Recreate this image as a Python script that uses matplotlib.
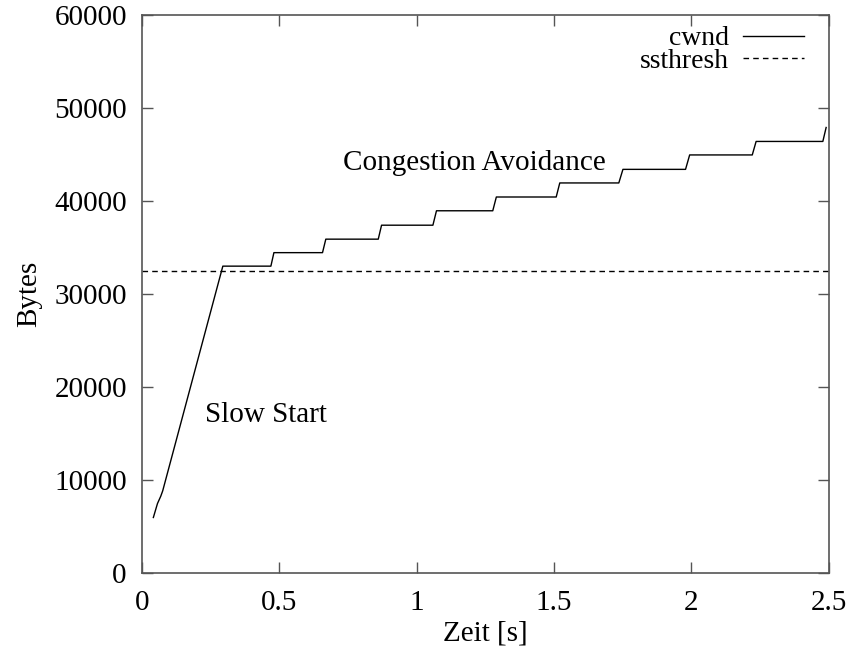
import matplotlib.pyplot as plt

plt.rcParams["font.family"] = ["Liberation Serif", "DejaVu Serif"]

# cwnd (Bytes) ueber Zeit (s)
zeit = [0.041, 0.056, 0.068, 0.075, 0.294, 0.469, 0.480, 0.657, 0.669,
        0.860, 0.872, 1.059, 1.072, 1.277, 1.290, 1.508, 1.521, 1.736,
        1.751, 1.979, 1.994, 2.222, 2.236, 2.479, 2.491]
cwnd = [5990, 7490, 8280, 8850, 33000, 33000, 34450, 34450, 35900,
        35900, 37400, 37400, 38950, 38950, 40430, 40430, 41940, 41940,
        43400, 43400, 44950, 44950, 46400, 46400, 47900]
ssthresh = 32500

fs = 21

fig = plt.figure(figsize=(8.56, 6.47), dpi=100)
ax = fig.add_axes([0.166, 0.114, 0.802, 0.863])

ax.plot(zeit, cwnd, color="black", lw=1.0, label="cwnd")
ax.axhline(ssthresh, color="black", lw=1.0, ls=(0, (4, 3)), label="ssthresh")

ax.text(0.731, 44090, "Congestion Avoidance", fontsize=fs, va="center")
ax.text(0.229, 17000, "Slow Start", fontsize=fs, va="center")

ax.set_xlim(0, 2.5)
ax.set_ylim(0, 60000)
ax.set_xticks([0, 0.5, 1, 1.5, 2, 2.5])
ax.set_xticklabels(["0", "0.5", "1", "1.5", "2", "2.5"])
ax.set_yticks(range(0, 60001, 10000))
ax.tick_params(direction="in", length=8, width=1, labelsize=fs, color="#555555",
               top=True, right=True)
ax.tick_params(axis="x", pad=12)
ax.tick_params(axis="y", pad=11)
for s in ax.spines.values():
    s.set_color("#555555")
    s.set_linewidth(1.2)

ax.set_xlabel("Zeit [s]", fontsize=fs, labelpad=3)
ax.set_ylabel("Bytes", fontsize=fs, labelpad=9)

ax.legend(loc="upper right", frameon=False, markerfirst=False, fontsize=20,
          handlelength=2.2, handletextpad=0.5, labelspacing=-0.1,
          borderaxespad=0.0, bbox_to_anchor=(0.98, 1.0))

fig.savefig("out.png")
